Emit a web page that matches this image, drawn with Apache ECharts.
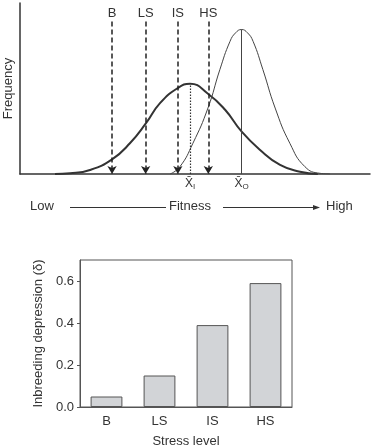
<!DOCTYPE html>
<html>
<head>
<meta charset="utf-8">
<script src="https://cdn.jsdelivr.net/npm/echarts@6/dist/echarts.min.js"></script>
<style>
html, body { margin: 0; padding: 0; background: #fff; }
#main { width: 372px; height: 448px; }
</style>
</head>
<body>
<div id="main"></div>
<script>
// fitness (0-100) / frequency pairs
var inbredCurve = [
	[10, 0], [14.3, 0.4], [20, 2.3], [26.3, 8.4], [31.4, 17.6], [36, 29.1],
	[40, 40.6], [45.1, 49.3], [48.6, 51.7], [53.7, 46], [58.6, 36.8],
	[63.4, 24.1], [68.6, 13.8], [74.3, 5.2], [80, 1.3], [85.1, 0]
];
var outbredCurve = [
	[42.9, 0], [45.7, 4.2], [49.4, 17.6], [53.7, 37.8], [57.1, 59.8], [60, 76],
	[61.6, 80.9], [63.3, 82.8], [65, 80.9], [66.6, 76], [69.4, 59.8],
	[72.9, 37.8], [77.1, 17.6], [81.4, 4.2], [85.7, 0.4], [88.6, 0]
];
var inbredMean = [48.6, 51.7];
var outbredMean = [63.3, 82.8];

var stressLevels = ['B', 'LS', 'IS', 'HS'];
var stressFitness = [26.3, 35.9, 45.1, 53.8];
var arrowTop = 87.4;

var inbreedingDepression = [0.05, 0.15, 0.39, 0.59];

var dom = document.getElementById('main');
var myChart = echarts.init(dom);

var textColor = '#333';
var fontFamily = 'Liberation Sans';

function meanLabel(sub) {
	return {
		show: true,
		position: 'start',
		distance: 3,
		color: textColor,
		fontFamily: fontFamily,
		formatter: function() { return '{x|X\u0304}{s|' + sub + '}'; },
		rich: {
			x: { fontSize: 12, fontFamily: fontFamily, color: textColor },
			s: { fontSize: 8, fontFamily: fontFamily, color: textColor, padding: [6, 0, 0, 0] }
		}
	};
}

var option = {
	animation: false,
	textStyle: { fontFamily: fontFamily, color: textColor },
	grid: [
		{ left: 20, top: 3, width: 350, height: 171, outerBoundsMode: 'none', containLabel: false },
		{ left: 80, top: 260, width: 212, height: 147, show: true, borderColor: '#555', borderWidth: 1, outerBoundsMode: 'none', containLabel: false }
	],
	xAxis: [{
		gridIndex: 0,
		type: 'value',
		min: 0,
		max: 100,
		axisLine: { lineStyle: { color: textColor, width: 1.5 } },
		axisTick: { show: false },
		axisLabel: { show: false },
		splitLine: { show: false }
	}, {
		gridIndex: 1,
		type: 'category',
		data: stressLevels,
		name: 'Stress level',
		nameLocation: 'middle',
		nameGap: 28,
		nameTextStyle: { fontSize: 13, color: textColor },
		axisLine: { lineStyle: { color: '#555' } },
		axisTick: { show: false },
		axisLabel: { fontSize: 13, color: textColor, margin: 8 }
	}],
	yAxis: [{
		gridIndex: 0,
		type: 'value',
		min: 0,
		max: 98,
		name: 'Frequency',
		nameLocation: 'middle',
		nameGap: 5,
		nameTextStyle: { fontSize: 13, color: textColor },
		axisLine: { show: true, lineStyle: { color: textColor, width: 1.5 } },
		axisTick: { show: false },
		axisLabel: { show: false },
		splitLine: { show: false }
	}, {
		gridIndex: 1,
		type: 'value',
		min: 0,
		max: 0.7,
		interval: 0.2,
		name: 'Inbreeding depression (\u03b4)',
		nameLocation: 'middle',
		nameGap: 34,
		nameTextStyle: { fontSize: 13, color: textColor },
		axisLine: { show: true, lineStyle: { color: '#555' } },
		axisTick: { show: true, length: 3, lineStyle: { color: '#555' } },
		axisLabel: {
			fontSize: 13,
			color: textColor,
			margin: 6,
			showMaxLabel: false,
			formatter: function(v) { return v.toFixed(1); }
		},
		splitLine: { show: false }
	}],
	graphic: [
		{ type: 'text', left: 30, top: 200, style: { text: 'Low', fontSize: 13, fontFamily: fontFamily, fill: textColor } },
		{ type: 'text', left: 169, top: 200, style: { text: 'Fitness', fontSize: 13, fontFamily: fontFamily, fill: textColor } },
		{ type: 'text', left: 326, top: 200, style: { text: 'High', fontSize: 13, fontFamily: fontFamily, fill: textColor } },
		{ type: 'line', shape: { x1: 70, y1: 207.5, x2: 166, y2: 207.5 }, style: { stroke: textColor, lineWidth: 1 } },
		{ type: 'line', shape: { x1: 223, y1: 207.5, x2: 314, y2: 207.5 }, style: { stroke: textColor, lineWidth: 1 } },
		{ type: 'polygon', shape: { points: [[313, 205], [320, 207.5], [313, 210]] }, style: { fill: textColor } }
	],
	series: [{
		name: 'Inbred',
		type: 'line',
		xAxisIndex: 0,
		yAxisIndex: 0,
		data: inbredCurve,
		smooth: 0.5,
		symbol: 'none',
		lineStyle: { color: '#333', width: 2 },
		markLine: {
			silent: true,
			symbol: 'none',
			lineStyle: { color: '#333', type: [1.5, 1.5], width: 1.2 },
			label: meanLabel('I'),
			data: [[
				{ coord: [inbredMean[0], 0] },
				{ coord: [inbredMean[0], inbredMean[1]] }
			]]
		}
	}, {
		name: 'Outbred',
		type: 'line',
		xAxisIndex: 0,
		yAxisIndex: 0,
		data: outbredCurve,
		smooth: 0.5,
		symbol: 'none',
		lineStyle: { color: '#444', width: 1 },
		markLine: {
			silent: true,
			symbol: 'none',
			lineStyle: { color: '#444', type: 'solid', width: 1 },
			label: meanLabel('O'),
			data: [[
				{ coord: [outbredMean[0], 0] },
				{ coord: [outbredMean[0], outbredMean[1]] }
			]]
		}
	}, {
		name: 'Stress',
		type: 'line',
		xAxisIndex: 0,
		yAxisIndex: 0,
		data: stressFitness.map(function(f) { return [f, arrowTop]; }),
		symbol: 'none',
		lineStyle: { width: 0, opacity: 0 },
		markLine: {
			silent: true,
			symbol: ['none', 'arrow'],
			symbolSize: [7, 8],
			lineStyle: { color: '#222', type: [5, 3], width: 1.5 },
			label: {
				show: true,
				position: 'start',
				distance: 2,
				fontSize: 13,
				color: textColor,
				formatter: function(p) { return p.name; }
			},
			data: stressFitness.map(function(f, i) {
				return [
					{ name: stressLevels[i], coord: [f, arrowTop] },
					{ coord: [f, 0] }
				];
			})
		}
	}, {
		name: 'Inbreeding depression',
		type: 'bar',
		xAxisIndex: 1,
		yAxisIndex: 1,
		data: inbreedingDepression,
		barWidth: '60%',
		itemStyle: { color: '#d2d4d7', borderColor: '#555', borderWidth: 1 }
	}]
};

myChart.setOption(option, true);
</script>
</body>
</html>
